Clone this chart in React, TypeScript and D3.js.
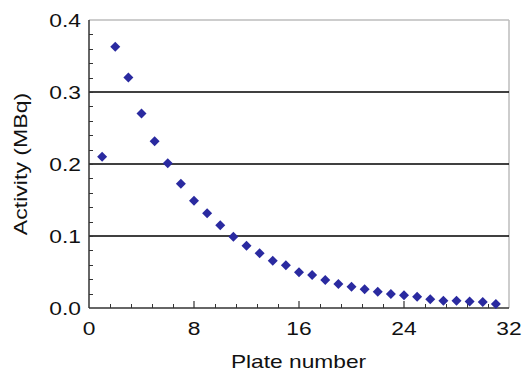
import React, { useEffect, useRef } from 'react';
import * as d3 from 'd3';

const plates = [1, 2, 3, 4, 5, 6, 7, 8, 9, 10, 11, 12, 13, 14, 15, 16, 17, 18, 19, 20, 21, 22, 23, 24, 25, 26, 27, 28, 29, 30, 31];
const activity = [
  0.210, 0.363, 0.320, 0.270, 0.2315, 0.201, 0.1726, 0.149, 0.1315, 0.115,
  0.099, 0.0865, 0.076, 0.0657, 0.0593, 0.0496, 0.0458, 0.0389, 0.0335, 0.0296,
  0.026, 0.0227, 0.0194, 0.0178, 0.0157, 0.0122, 0.0101, 0.0102, 0.0089, 0.0083, 0.0054,
];
const xTicks = [0, 8, 16, 24, 32];
const yTicks = [0, 0.1, 0.2, 0.3, 0.4];

const App = () => {
  const svgRef = useRef<SVGSVGElement>(null);

  useEffect(() => {
    const width = 524;
    const height = 375;
    const m = { left: 89, right: 15, top: 20, bottom: 67 };

    const svg = d3.select(svgRef.current);
    svg.selectAll('*').remove();

    const x = d3.scaleLinear().domain([0, 32]).range([m.left, width - m.right]);
    const y = d3.scaleLinear().domain([0, 0.4]).range([height - m.bottom, m.top]);

    const font = 'Liberation Sans, Arial, sans-serif';

    // frame: top and right in grey
    svg.append('line')
      .attr('x1', x(0)).attr('x2', x(32)).attr('y1', y(0.4)).attr('y2', y(0.4))
      .attr('stroke', '#bdbdbd').attr('stroke-width', 1.5);
    svg.append('line')
      .attr('x1', x(32)).attr('x2', x(32)).attr('y1', y(0.4)).attr('y2', y(0))
      .attr('stroke', '#bdbdbd').attr('stroke-width', 1.5);

    // gridlines
    svg.append('g')
      .selectAll('line')
      .data([0.1, 0.2, 0.3])
      .join('line')
      .attr('x1', x(0)).attr('x2', x(32))
      .attr('y1', d => y(d)).attr('y2', d => y(d))
      .attr('stroke', '#000').attr('stroke-width', 1.4);

    // minor ticks, pointing inward
    const yMinor = d3.range(0.02, 0.4, 0.02);
    svg.append('g')
      .selectAll('line')
      .data(yMinor)
      .join('line')
      .attr('x1', x(0)).attr('x2', x(0) + 4)
      .attr('y1', d => Math.round(y(d)) + 0.5).attr('y2', d => Math.round(y(d)) + 0.5)
      .attr('stroke', '#333').attr('stroke-width', 1);

    const xMinor = d3.range(1.6, 32, 1.6).filter(v => Math.abs(v / 8 - Math.round(v / 8)) > 0.01);
    svg.append('g')
      .selectAll('line')
      .data(xMinor)
      .join('line')
      .attr('x1', d => Math.round(x(d)) + 0.5).attr('x2', d => Math.round(x(d)) + 0.5)
      .attr('y1', y(0)).attr('y2', y(0) - 4)
      .attr('stroke', '#333').attr('stroke-width', 1);

    svg.append('g')
      .selectAll('line')
      .data([8, 16, 24])
      .join('line')
      .attr('x1', d => x(d)).attr('x2', d => x(d))
      .attr('y1', y(0)).attr('y2', y(0) - 7)
      .attr('stroke', '#333').attr('stroke-width', 1.2);

    // axes
    svg.append('line')
      .attr('x1', x(0)).attr('x2', x(0)).attr('y1', y(0.4)).attr('y2', y(0))
      .attr('stroke', '#333').attr('stroke-width', 1.5);
    svg.append('line')
      .attr('x1', x(0)).attr('x2', x(32)).attr('y1', y(0)).attr('y2', y(0))
      .attr('stroke', '#333').attr('stroke-width', 1.5);

    // tick labels (the original font is a bit wider than Arial)
    svg.append('g')
      .selectAll('text')
      .data(yTicks)
      .join('text')
      .attr('transform', d => `translate(${x(0) - 8},${y(d)}) scale(1.2,1)`)
      .attr('dy', '0.36em')
      .attr('text-anchor', 'end')
      .attr('font-family', font)
      .attr('font-size', 19)
      .attr('fill', '#111')
      .text(d => d3.format('.1f')(d));

    svg.append('g')
      .selectAll('text')
      .data(xTicks)
      .join('text')
      .attr('transform', d => `translate(${x(d)},${y(0) + 27}) scale(1.2,1)`)
      .attr('text-anchor', 'middle')
      .attr('font-family', font)
      .attr('font-size', 19)
      .attr('fill', '#111')
      .text(d => d);

    // titles, widened to the original's proportions
    svg.append('text')
      .attr('transform', 'translate(298.5,367.5) scale(1.3,1)')
      .attr('text-anchor', 'middle')
      .attr('font-family', font)
      .attr('font-size', 17.5)
      .attr('fill', '#111')
      .text('Plate number');

    svg.append('text')
      .attr('transform', 'translate(27,164) rotate(-90) scale(1.32,1)')
      .attr('text-anchor', 'middle')
      .attr('font-family', font)
      .attr('font-size', 17.5)
      .attr('fill', '#111')
      .text('Activity (MBq)');

    // points: square diamonds
    const marker = d3.symbol().type(d3.symbolSquare).size(50);
    svg.append('g')
      .selectAll('path')
      .data(plates.map((p, i) => [p, activity[i]]))
      .join('path')
      .attr('transform', d => `translate(${x(d[0])},${y(d[1])}) rotate(45)`)
      .attr('d', marker)
      .attr('fill', '#2a2aa0');
  }, []);

  return (
    <svg
      ref={svgRef}
      width={524}
      height={375}
      style={{ position: 'absolute', left: 0, top: 0, background: '#fff' }}
    />
  );
};

export default App;
